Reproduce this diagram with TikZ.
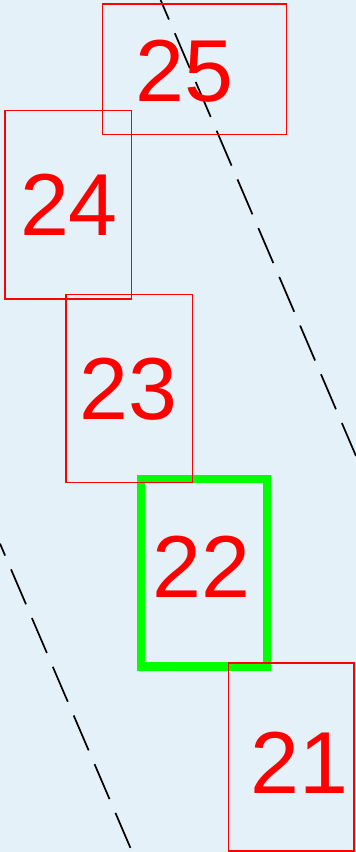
\documentclass[tikz,border=0pt]{standalone}
\usepackage{fontspec}
\setmainfont{Liberation Sans}
\definecolor{bgc}{HTML}{E4F1F9}
\definecolor{redc}{HTML}{FF0000}
\definecolor{grnc}{HTML}{00FF00}
\begin{document}
\begin{tikzpicture}[x=1pt,y=-1pt,
  redbox/.style={draw=redc,line width=1.5pt,inner sep=0pt,outer sep=0pt},
  greenbox/.style={draw=grnc,line width=8.5pt,inner sep=0pt,outer sep=0pt},
  lbl/.style={text=redc,inner sep=0pt,anchor=base,font=\fontsize{88}{88}\selectfont},
  dashline/.style={draw=black,line width=1.7pt,dash pattern=on 38pt off 15pt}]
\fill[bgc] (0,0) rectangle (356,852);
\useasboundingbox (0,0) rectangle (356,852);
% dashed lines
\coordinate (r1) at (160.6,0);
\coordinate (r2) at (356,456);
\coordinate (l1) at (0,543.6);
\coordinate (l2) at (132.2,852);
\draw[dashline,dash phase=16.8pt] (r1) -- (r2);
\draw[dashline,dash phase=25pt] (l1) -- (l2);
% boxes
\node[greenbox,minimum width=125.8pt,minimum height=187.7pt] (b22) at (203.9,572.85) {};
\node[redbox,minimum width=184pt,minimum height=130.7pt] (b25) at (194.3,69.35) {};
\node[redbox,minimum width=126.3pt,minimum height=188.7pt] (b24) at (68.15,204.65) {};
\node[redbox,minimum width=126.3pt,minimum height=188.4pt] (b23) at (129.15,388.5) {};
\node[redbox,minimum width=125.7pt,minimum height=188pt] (b21) at (291.15,757) {};
% labels
\node[lbl] (t25) at (184.3,101.5) {25};
\node[lbl] (t24) at (69,235.5) {24};
\node[lbl] (t23) at (128.6,419.5) {23};
\node[lbl] (t22) at (201.3,597) {22};
\node[lbl] (t21) at (299.3,793) {21};
\end{tikzpicture}
\end{document}
